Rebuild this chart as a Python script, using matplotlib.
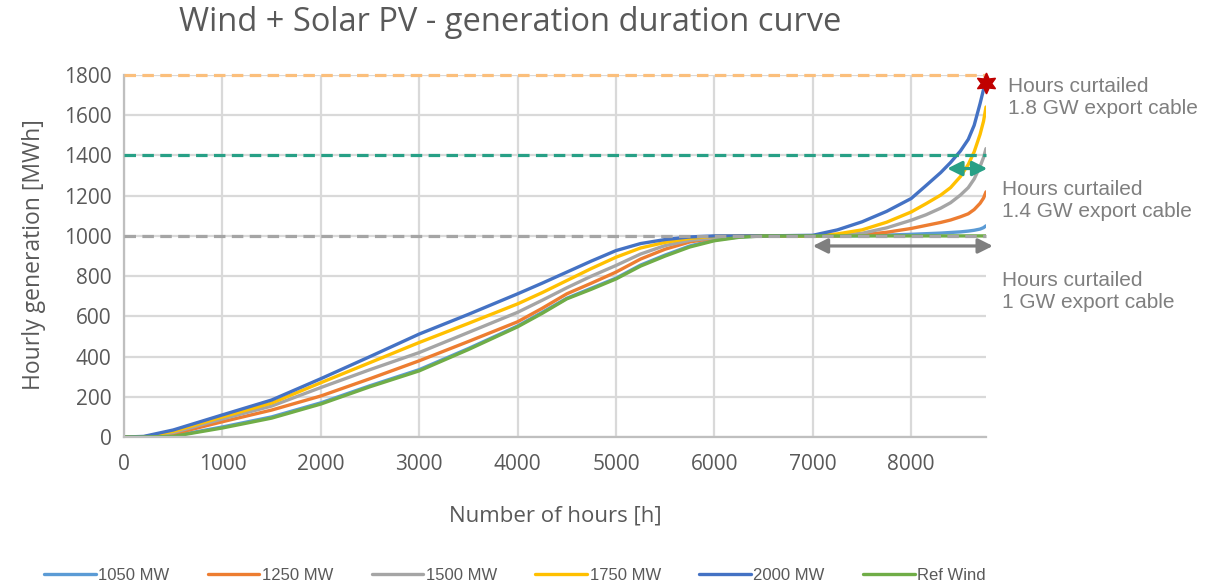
import matplotlib
matplotlib.use("Agg")
import matplotlib.pyplot as plt
import numpy as np

# duration curve samples (hours sorted, MWh per hour)
hours = [0, 200, 500, 1000, 1500, 2000, 2500, 3000, 3500, 4000,
         4250, 4500, 4750, 5000, 5250, 5500, 5750, 6000, 6250, 6500,
         7000, 7250, 7500, 7750, 8000, 8150, 8300, 8400, 8500, 8580,
         8640, 8700, 8735, 8760]

gen_1050 = [0, 0, 5, 50, 100, 170, 255, 335, 440, 552,
            620, 690, 740, 790, 855, 905, 950, 980, 995, 1000,
            1000, 1000, 1001, 1004, 1008, 1011, 1014, 1017, 1020, 1024,
            1028, 1034, 1041, 1050]
gen_1250 = [0, 0, 15, 76, 134, 204, 290, 379, 475, 573,
            640, 712, 765, 820, 885, 934, 970, 989, 997, 1000,
            1000, 1000, 1005, 1018, 1037, 1052, 1067, 1079, 1095, 1110,
            1131, 1162, 1188, 1219]
gen_1500 = [0, 0, 22, 90, 154, 246, 335, 420, 520, 620,
            680, 742, 800, 853, 910, 952, 978, 990, 997, 1000,
            1000, 1003, 1013, 1040, 1078, 1105, 1138, 1165, 1203, 1240,
            1283, 1345, 1390, 1434]
gen_1750 = [0, 1, 28, 100, 169, 270, 370, 470, 565, 662,
            718, 778, 838, 894, 940, 968, 988, 998, 1000, 1000,
            1000, 1010, 1030, 1068, 1119, 1160, 1203, 1240, 1295, 1355,
            1418, 1505, 1570, 1641]
gen_2000 = [0, 3, 35, 110, 184, 290, 400, 512, 610, 712,
            765, 820, 875, 927, 962, 982, 995, 1000, 1000, 1000,
            1003, 1030, 1070, 1122, 1186, 1250, 1315, 1365, 1422, 1480,
            1550, 1658, 1728, 1762]
gen_ref = [0, 0, 3, 45, 94, 164, 250, 329, 435, 548,
           615, 687, 735, 786, 850, 900, 945, 976, 993, 1000,
           1000, 1000, 1000, 1000, 1000, 1000, 1000, 1000, 1000, 1000,
           1000, 1000, 1000, 1000]

series = [
    ("1050 MW", gen_1050, "#5B9BD5"),
    ("1250 MW", gen_1250, "#ED7D31"),
    ("1500 MW", gen_1500, "#A5A5A5"),
    ("1750 MW", gen_1750, "#FFC000"),
    ("2000 MW", gen_2000, "#4472C4"),
    ("Ref Wind", gen_ref, "#70AD47"),
]

# export cable limits (MWh) and their notes
cable_limits = [1800, 1400, 1000]
cable_colors = ["#FBBF7C", "#27A086", "#A5A5A5"]
cable_notes = ["Hours curtailed\n1.8 GW export cable",
               "Hours curtailed\n1.4 GW export cable",
               "Hours curtailed\n1 GW export cable"]

# curtailment spans (start hour, end hour, level)
span_14 = (8366, 8773, 1335)
span_10 = (7000, 8830, 950)

txt = "#595959"
plt.rcParams["font.family"] = ["Open Sans", "DejaVu Sans"]

fig = plt.figure(figsize=(12.23, 5.87), dpi=100)
ax = fig.add_axes([0.1014, 0.2555, 0.7048, 0.6167])

for name, vals, col in series:
    ax.plot(hours, vals, color=col, lw=2.4, label=name,
            solid_capstyle="round", solid_joinstyle="round")

for lim, col in zip(cable_limits, cable_colors):
    ax.axhline(lim, color=col, lw=2.3, dashes=(3.6, 2.0), clip_on=False, zorder=4)

# red star on the peak of the 2000 MW case
ax.plot(hours[-1], gen_2000[-1], marker=(6, 1, 0), ms=15, color="#C00000",
        clip_on=False, zorder=6)

ax.annotate("", xy=(span_14[1], span_14[2]), xytext=(span_14[0], span_14[2]),
            arrowprops=dict(arrowstyle="<|-|>", color="#27A086", lw=2.3,
                            mutation_scale=22, shrinkA=0, shrinkB=0),
            annotation_clip=False, zorder=5)
ax.annotate("", xy=(span_10[1], span_10[2]), xytext=(span_10[0], span_10[2]),
            arrowprops=dict(arrowstyle="<|-|>", color="#7F7F7F", lw=2.3,
                            mutation_scale=22, shrinkA=0, shrinkB=0),
            annotation_clip=False, zorder=5)

ax.set_xlim(0, 8760)
ax.set_ylim(0, 1800)
ax.set_xticks(range(0, 8001, 1000))
ax.set_yticks(range(0, 1801, 200))
ax.grid(True, color="#D9D9D9", lw=1.6)
ax.set_axisbelow(True)
for s in ["top", "right"]:
    ax.spines[s].set_visible(False)
for s in ["left", "bottom"]:
    ax.spines[s].set_color("#BFBFBF")
    ax.spines[s].set_linewidth(1.6)
ax.tick_params(length=0, labelsize=15, colors=txt)
ax.tick_params(axis="x", pad=12)
ax.tick_params(axis="y", pad=9)

ax.set_xlabel("Number of hours [h]", fontsize=16, color=txt)
ax.xaxis.set_label_coords(0.5, -0.188)
ax.set_ylabel("Hourly generation [MWh]", fontsize=16.5, color=txt)
ax.yaxis.set_label_coords(-0.09, 0.503)

fig.text(0.417, 0.962, "Wind + Solar PV - generation duration curve",
         fontsize=23.5, color=txt, ha="center", va="center")

note_pos = [(1008, 97), (1002, 201), (1002, 292)]
for (px, py), note in zip(note_pos, cable_notes):
    fig.text(px / 1223, 1 - py / 587, note, fontsize=15, color="#7F7F7F",
             ha="left", va="center", family=["Liberation Sans", "DejaVu Sans"],
             linespacing=1.2)

fig.legend(loc="center", bbox_to_anchor=(0.421, 0.02), ncol=6, frameon=False,
           prop={"family": ["Liberation Sans", "DejaVu Sans"], "size": 12},
           labelcolor=txt, handlelength=3.1, handletextpad=0.15, columnspacing=2.3)

fig.savefig("out.png", dpi=100)
